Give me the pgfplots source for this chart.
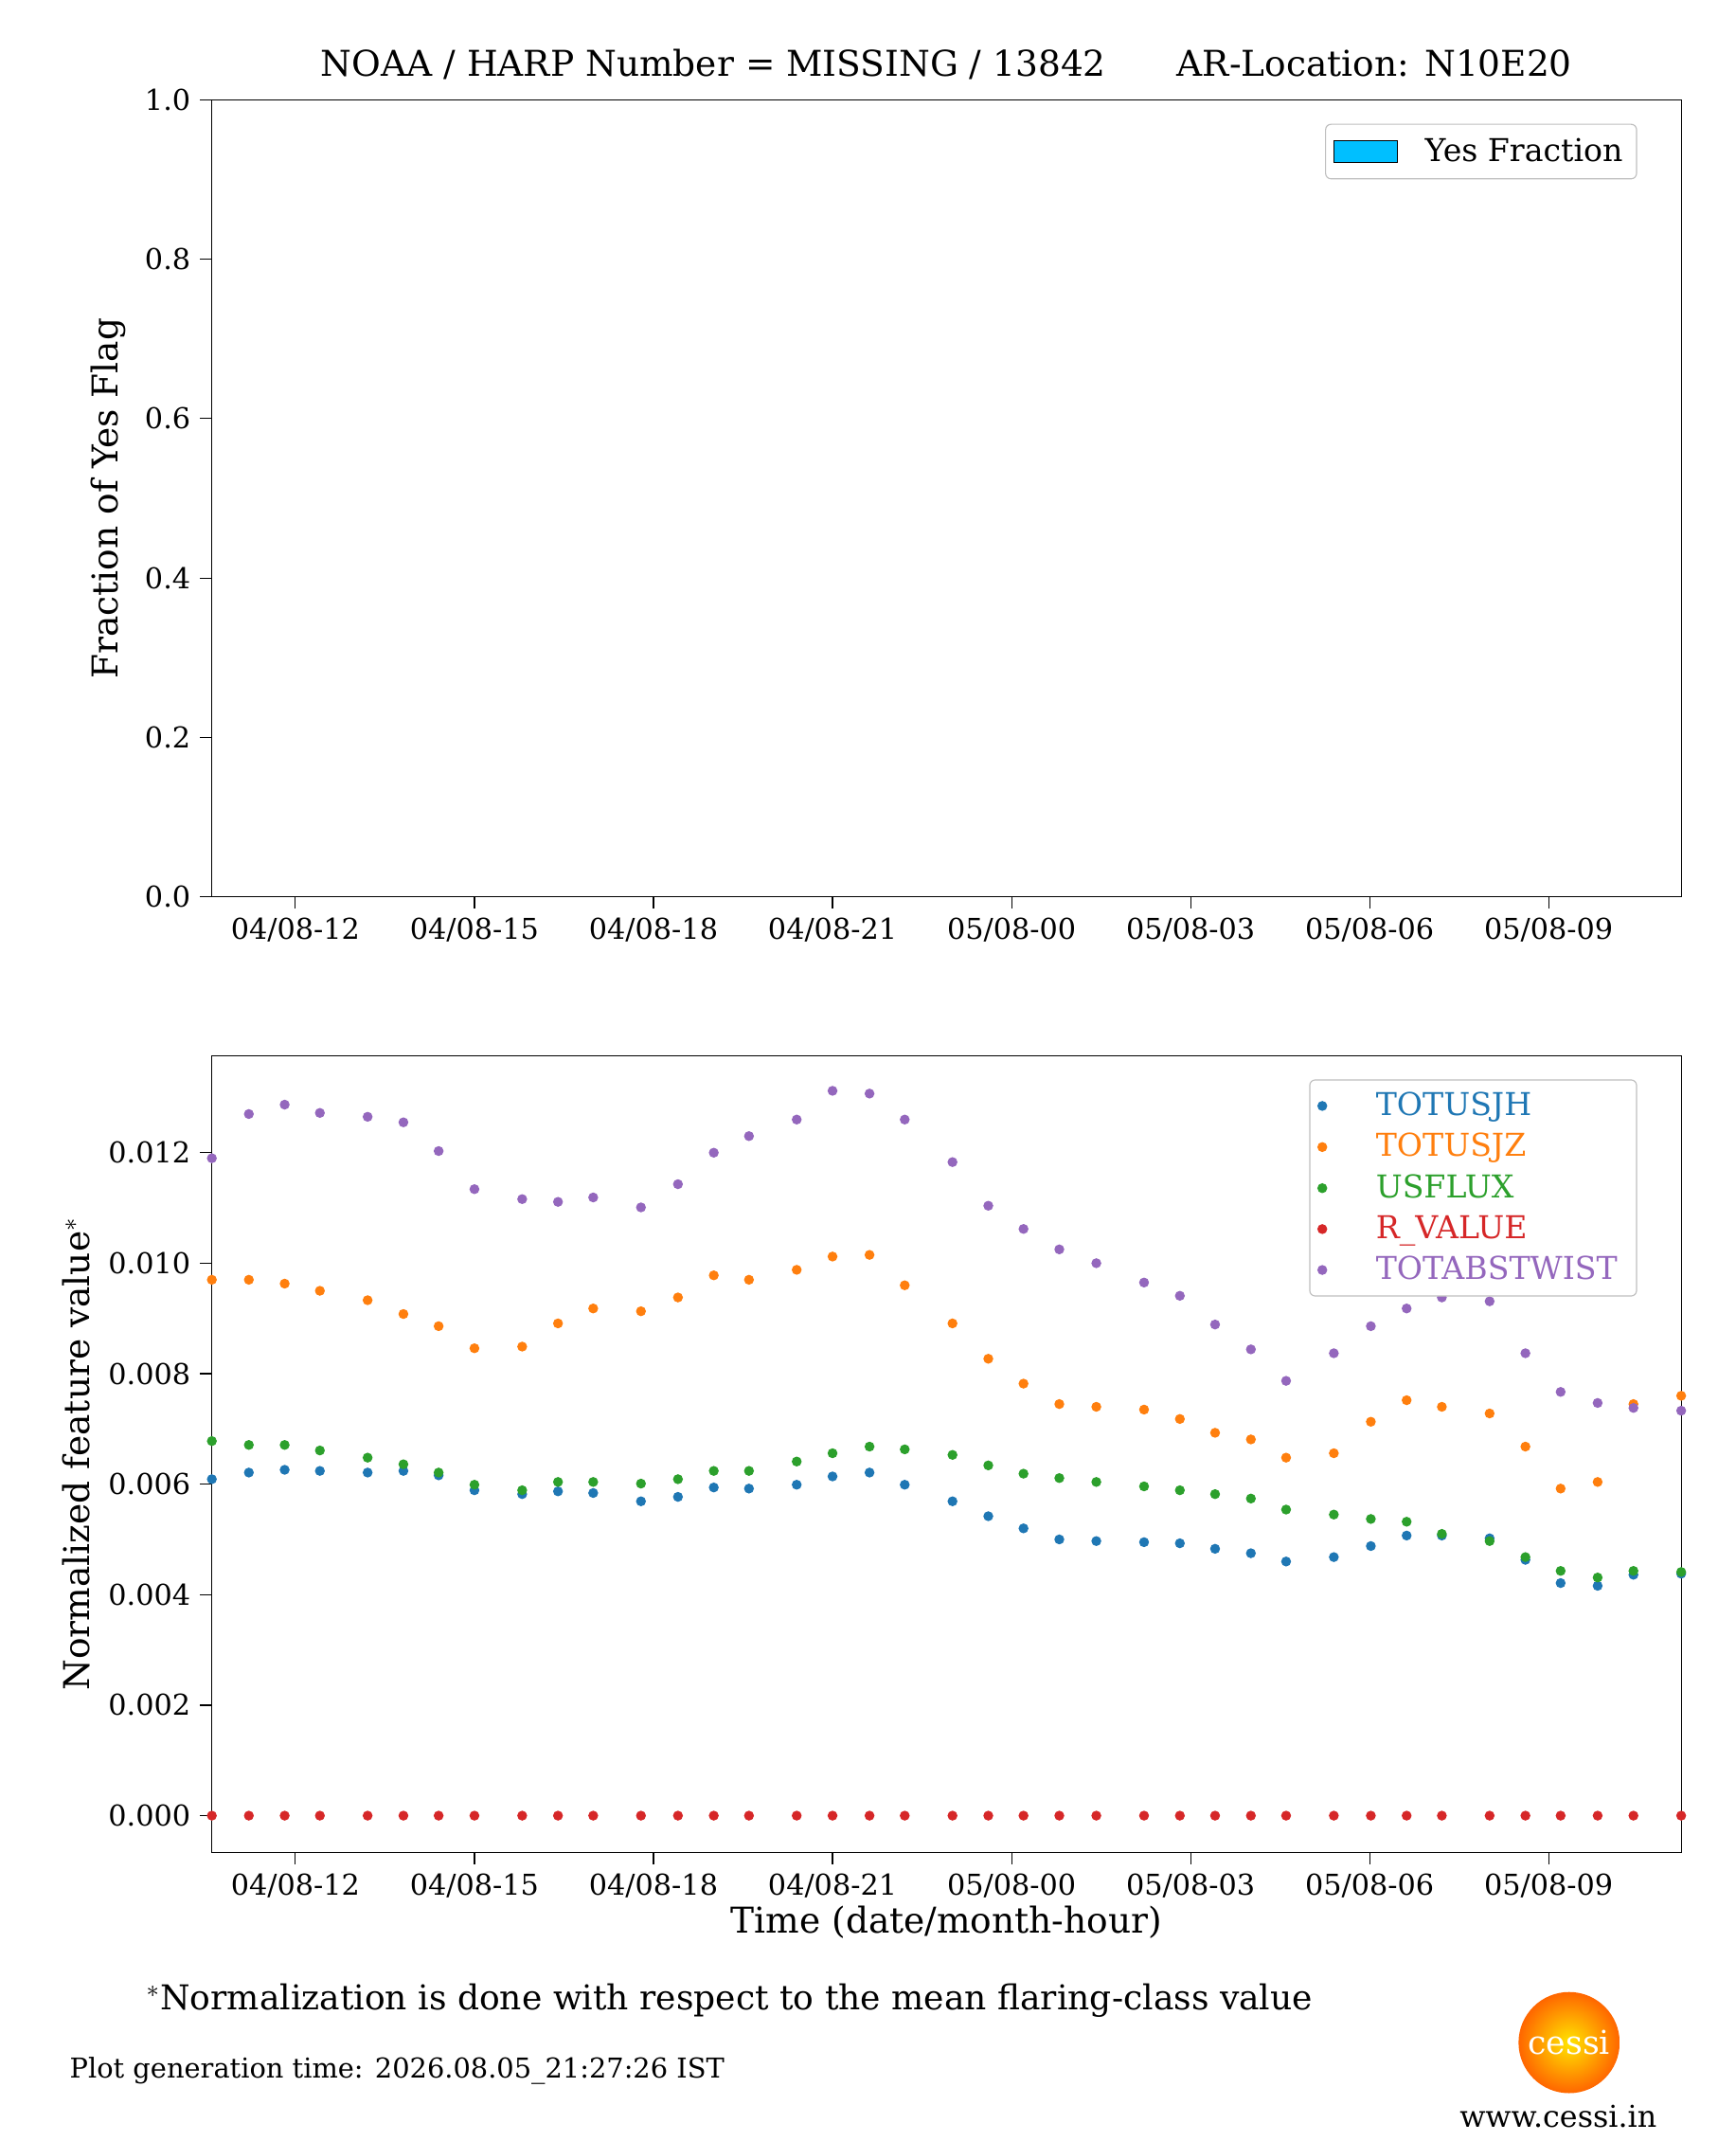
\documentclass[border=0pt]{standalone}
\usepackage{pgfplots}
\pgfplotsset{compat=1.18}
\usepackage{pgfplotstable}
\usepackage{fontspec}
\setmainfont{DejaVu Serif}
\definecolor{c1}{HTML}{1F77B4}
\definecolor{c2}{HTML}{FF7F0E}
\definecolor{c3}{HTML}{2CA02C}
\definecolor{c4}{HTML}{D62728}
\definecolor{c5}{HTML}{9467BD}
\definecolor{yesc}{HTML}{00BFFF}
\pgfplotstableread{
hr jh jz fl rv tw
10.60 0.00609 0.00970 0.00678 0 0.01190
11.22 0.00621 0.00970 0.00671 0 0.01270
11.82 0.00626 0.00963 0.00671 0 0.01287
12.41 0.00624 0.00950 0.00661 0 0.01272
13.21 0.00621 0.00933 0.00648 0 0.01265
13.81 0.00624 0.00908 0.00636 0 0.01255
14.40 0.00616 0.00886 0.00621 0 0.01203
15.00 0.00589 0.00846 0.00599 0 0.01134
15.80 0.00582 0.00849 0.00589 0 0.01116
16.40 0.00587 0.00891 0.00604 0 0.01111
16.99 0.00584 0.00918 0.00604 0 0.01119
17.79 0.00569 0.00913 0.00601 0 0.01101
18.41 0.00577 0.00938 0.00609 0 0.01143
19.01 0.00594 0.00978 0.00624 0 0.01200
19.60 0.00592 0.00970 0.00624 0 0.01230
20.40 0.00599 0.00988 0.00641 0 0.01260
21.00 0.00614 0.01012 0.00656 0 0.01312
21.62 0.00621 0.01015 0.00668 0 0.01307
22.21 0.00599 0.00960 0.00663 0 0.01260
23.01 0.00569 0.00891 0.00653 0 0.01183
23.61 0.00542 0.00827 0.00634 0 0.01104
24.20 0.00520 0.00782 0.00619 0 0.01062
24.80 0.00500 0.00745 0.00611 0 0.01025
25.42 0.00497 0.00740 0.00604 0 0.01000
26.22 0.00495 0.00735 0.00596 0 0.00965
26.82 0.00493 0.00718 0.00589 0 0.00941
27.41 0.00483 0.00693 0.00582 0 0.00889
28.01 0.00475 0.00681 0.00574 0 0.00844
28.60 0.00460 0.00648 0.00554 0 0.00787
29.40 0.00468 0.00656 0.00545 0 0.00837
30.02 0.00488 0.00713 0.00537 0 0.00886
30.62 0.00507 0.00752 0.00532 0 0.00918
31.21 0.00507 0.00740 0.00510 0 0.00938
32.01 0.00502 0.00728 0.00497 0 0.00931
32.61 0.00463 0.00668 0.00468 0 0.00837
33.20 0.00421 0.00592 0.00443 0 0.00767
33.82 0.00416 0.00604 0.00431 0 0.00747
34.42 0.00436 0.00745 0.00443 0 0.00738
35.22 0.00438 0.00760 0.00441 0 0.00733
}\data
\begin{document}
\begin{tikzpicture}
\path (0pt,0pt) rectangle (635pt,-783pt);
\pgfplotsset{
 common/.style={scale only axis, width=537.5pt, height=291.5pt,
  xmin=10.6, xmax=35.22, xtick={12,15,18,21,24,27,30,33},
  xticklabels={04/08-12,04/08-15,04/08-18,04/08-21,05/08-00,05/08-03,05/08-06,05/08-09},
  tick label style={font=\fontsize{10.5}{12}\selectfont},
  label style={font=\fontsize{13}{15}\selectfont},
  /pgf/number format/assume math mode=true,
  tick align=outside, tick style={black, thin}, xtick pos=bottom, ytick pos=left,
  legend style={font=\fontsize{11.5}{13}\selectfont, draw=black!25, rounded corners=2pt},
 }
}
\begin{axis}[common, at={(77.5pt,-328pt)}, anchor=south west,
 ymin=0, ymax=1, ytick={0,0.2,0.4,0.6,0.8,1.0},
 yticklabel style={/pgf/number format/.cd, fixed, fixed zerofill, precision=1},
 ylabel={Fraction of Yes Flag},
 legend pos=north east, legend cell align=left,
 legend style={nodes={inner ysep=3pt}},
 title={NOAA / HARP Number = MISSING / 13842\qquad AR-Location: N10E20},
 title style={font=\fontsize{13}{15}\selectfont, yshift=-2pt}]
\addlegendimage{legend image code/.code={\draw[fill=yesc, draw=black, sharp corners] (0pt,-4pt) rectangle (23pt,4pt);}}
\addlegendentry{\hspace*{8pt}Yes Fraction}
\end{axis}
\begin{axis}[common, at={(77.5pt,-677.5pt)}, anchor=south west,
 ymin=-0.000668, ymax=0.01376, ytick={0,0.002,0.004,0.006,0.008,0.010,0.012},
 scaled y ticks=false,
 yticklabel style={/pgf/number format/.cd, fixed, fixed zerofill, precision=3},
 ylabel={Normalized feature value$^*$},
 xlabel={Time (date/month-hour)}, xlabel style={yshift=4pt},
 legend pos=north east, legend cell align=left,
 legend style={nodes={inner xsep=4pt, inner ysep=2.5pt}}]
\addplot[only marks, mark=*, mark size=1.6pt, color=c1] table[x index=0,y index=1]{\data};
\addlegendentry{\hspace*{14pt}\textcolor{c1}{TOTUSJH}}
\addplot[only marks, mark=*, mark size=1.6pt, color=c2] table[x index=0,y index=2]{\data};
\addlegendentry{\hspace*{14pt}\textcolor{c2}{TOTUSJZ}}
\addplot[only marks, mark=*, mark size=1.6pt, color=c3] table[x index=0,y index=3]{\data};
\addlegendentry{\hspace*{14pt}\textcolor{c3}{USFLUX}}
\addplot[only marks, mark=*, mark size=1.6pt, color=c4] table[x index=0,y index=4]{\data};
\addlegendentry{\hspace*{14pt}\textcolor{c4}{R\_VALUE}}
\addplot[only marks, mark=*, mark size=1.6pt, color=c5] table[x index=0,y index=5]{\data};
\addlegendentry{\hspace*{14pt}\textcolor{c5}{TOTABSTWIST}}
\end{axis}
\node[anchor=west, font=\fontsize{12.5}{15}\selectfont] at (50pt,-731.5pt) {$^*$Normalization is done with respect to the mean flaring-class value};
\node[anchor=west, font=\fontsize{10}{12}\selectfont] at (22pt,-757.5pt) {Plot generation time: 2026.08.05\_21:27:26 IST};
\shade[inner color=yellow!80!orange, outer color=orange!80!red] (574pt,-747pt) circle (18.5pt);
\node[white, font=\fontsize{12}{14}\selectfont] at (574pt,-747pt) {cessi};
\node[font=\fontsize{11}{13}\selectfont] at (570pt,-774pt) {www.cessi.in};
\end{tikzpicture}
\end{document}
